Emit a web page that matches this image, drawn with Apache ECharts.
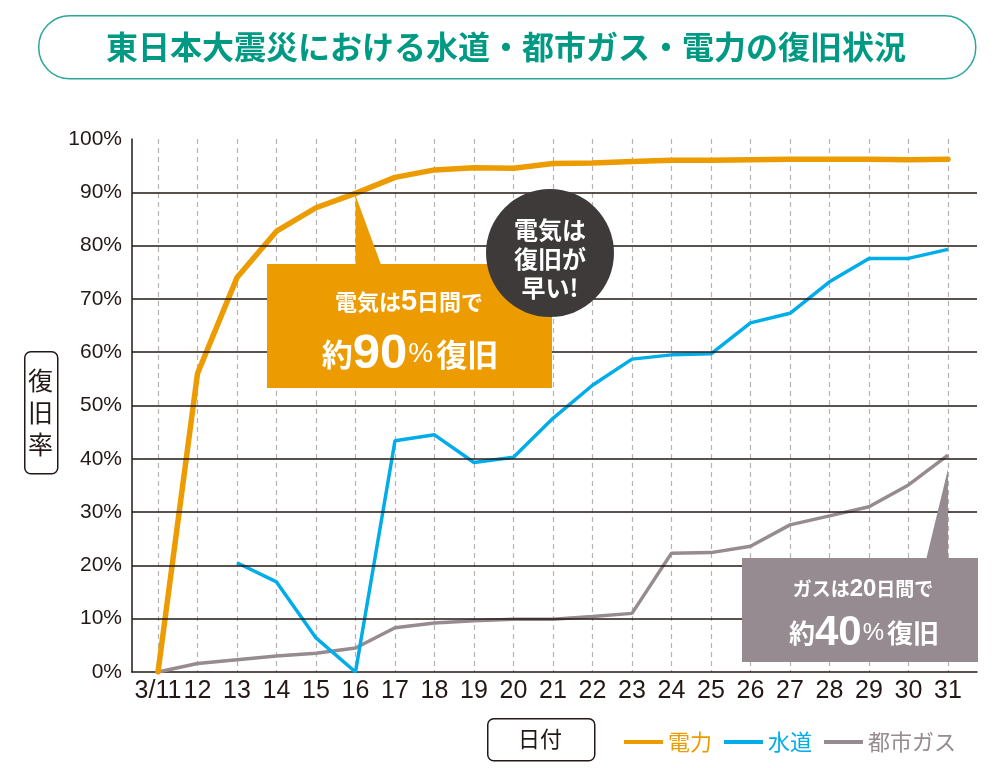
<!DOCTYPE html>
<html>
<head>
<meta charset="utf-8">
<script src="https://cdn.jsdelivr.net/npm/echarts@6/dist/echarts.min.js"></script>
<style>
html,body{margin:0;padding:0;background:#fff;}
#chart{width:1006px;height:768px;}
</style>
</head>
<body>
<div id="chart"></div>
<script>
// 日付
var days = ['3/11','12','13','14','15','16','17','18','19','20','21','22','23','24','25','26','27','28','29','30','31'];
// 復旧率 (%)
var power = [0, 56, 74, 82.7, 87.1, 89.8, 92.8, 94.2, 94.6, 94.5, 95.4, 95.5, 95.8, 96, 96, 96.1, 96.2, 96.2, 96.2, 96.1, 96.2];
var water = [null, null, 20.5, 16.9, 6.4, 0, 43.4, 44.5, 39.3, 40.3, 47.6, 53.8, 58.7, 59.5, 59.7, 65.5, 67.3, 73.2, 77.6, 77.6, 79.3];
var gas   = [0, 1.6, 2.3, 3.0, 3.5, 4.5, 8.3, 9.2, 9.6, 9.9, 9.9, 10.4, 11.0, 22.3, 22.4, 23.6, 27.6, 29.3, 31.0, 35.1, 40.7];
// 横線
var gridValues = [10, 20, 30, 40, 50, 60, 70, 80, 90];

var cOrange = '#ec9c00';
var cBlue = '#00ade8';
var cGray = '#968b90';
var cInk = '#231815';
var jp = '"Noto Sans CJK JP", sans-serif';
var num = '"Liberation Sans", "Noto Sans CJK JP", sans-serif';

var myChart = echarts.init(document.getElementById('chart'));

myChart.setOption({
    backgroundColor: '#fff',
    animation: false,
    grid: [
        {left: 132, right: 29, top: 139, bottom: 96},
        {left: 158, right: 58, top: 139, bottom: 96}
    ],
    xAxis: [
        {
            gridIndex: 0, type: 'value', min: 0, max: 1,
            axisLine: {show: true, onZero: false, lineStyle: {color: cInk, width: 1.5}},
            axisTick: {show: false}, axisLabel: {show: false}, splitLine: {show: false}
        },
        {
            gridIndex: 1, type: 'category', data: days, boundaryGap: false,
            axisLine: {show: false}, axisTick: {show: false},
            axisLabel: {interval: 0, fontSize: 25, color: cInk, fontFamily: num, margin: 7},
            splitLine: {show: true, interval: 0, lineStyle: {color: '#b3b3b3', width: 1.2, type: [5, 4]}}
        }
    ],
    yAxis: [
        {
            gridIndex: 0, type: 'value', min: 0, max: 100, interval: 10,
            axisLine: {show: true, lineStyle: {color: cInk, width: 1.5}},
            axisTick: {show: false},
            axisLabel: {formatter: '{value}%', fontSize: 21, color: cInk, fontFamily: num, margin: 10},
            splitLine: {show: false}
        },
        {
            gridIndex: 1, type: 'value', min: 0, max: 100,
            axisLine: {show: false}, axisTick: {show: false}, axisLabel: {show: false}, splitLine: {show: false}
        }
    ],
    legend: {
        left: 619, top: 726,
        icon: 'rect', itemWidth: 39, itemHeight: 4, itemGap: 12,
        textStyle: {fontSize: 22, fontFamily: jp},
        data: [
            {name: '電力', textStyle: {color: cOrange}},
            {name: '水道', textStyle: {color: cBlue}},
            {name: '都市ガス', textStyle: {color: cGray}}
        ]
    },
    series: [
        {
            name: 'grid', type: 'line', xAxisIndex: 0, yAxisIndex: 0, data: [],
            silent: true,
            markLine: {
                silent: true, symbol: 'none', label: {show: false},
                lineStyle: {color: cInk, width: 1.5, type: 'solid'},
                data: gridValues.map(function (v) { return {yAxis: v}; })
            }
        },
        {
            name: '都市ガス', type: 'line', xAxisIndex: 1, yAxisIndex: 1, data: gas,
            color: cGray, showSymbol: false, lineStyle: {width: 3.5, color: cGray}
        },
        {
            name: '水道', type: 'line', xAxisIndex: 1, yAxisIndex: 1, data: water,
            color: cBlue, showSymbol: false, lineStyle: {width: 3.5, color: cBlue}
        },
        {
            name: '電力', type: 'line', xAxisIndex: 1, yAxisIndex: 1, data: power,
            color: cOrange, showSymbol: false, lineStyle: {width: 5.5, color: cOrange, cap: 'round'}
        }
    ]
});

// 吹き出しの先端
var pA = myChart.convertToPixel({xAxisIndex: 1, yAxisIndex: 1}, [5, power[5]]);
var pB = myChart.convertToPixel({xAxisIndex: 1, yAxisIndex: 1}, [20, gas[20]]);

myChart.setOption({
    graphic: [
        // タイトル
        {type: 'rect', left: 38, top: 15, z: 10,
            shape: {width: 937, height: 63, r: 31},
            style: {fill: '#fff', stroke: '#2aa79b', lineWidth: 1.5}},
        {type: 'text', x: 506, y: 47, z: 11,
            style: {text: '東日本大震災における水道・都市ガス・電力の復旧状況', fill: '#009a84',
                font: 'bold 32px ' + jp, align: 'center', verticalAlign: 'middle'}},
        // 縦軸名
        {type: 'rect', left: 24, top: 351, z: 10,
            shape: {width: 33, height: 122, r: 6},
            style: {fill: '#fff', stroke: cInk, lineWidth: 1.5}},
        {type: 'text', x: 40.5, y: 412, z: 11,
            style: {text: '復\n旧\n率', fill: cInk, font: '25px ' + jp, lineHeight: 32,
                align: 'center', verticalAlign: 'middle'}},
        // 横軸名
        {type: 'rect', left: 487, top: 718, z: 10,
            shape: {width: 107, height: 42, r: 6},
            style: {fill: '#fff', stroke: cInk, lineWidth: 1.5}},
        {type: 'text', x: 540, y: 739, z: 11,
            style: {text: '日付', fill: cInk, font: '22px ' + jp, align: 'center', verticalAlign: 'middle'}},
        // 電力の吹き出し
        {type: 'polygon', z: 20,
            shape: {points: [[pA[0], pA[1] + 2], [pA[0], 266], [pA[0] + 26, 266]]},
            style: {fill: cOrange}},
        {type: 'rect', left: 267, top: 264, z: 20,
            shape: {width: 285, height: 124}, style: {fill: cOrange}},
        {type: 'text', x: 409, y: 302, z: 21,
            style: {
                text: '{a|電気は}{b|5}{a|日間で}',
                align: 'center', verticalAlign: 'middle',
                rich: {
                    a: {fill: '#fff', font: 'bold 22px ' + jp},
                    b: {fill: '#fff', font: 'bold 29px ' + num}
                }
            }},
        {type: 'text', x: 410, y: 354, z: 21,
            style: {
                text: '{a|約}{b|90}{c|%}{a|復旧}',
                align: 'center', verticalAlign: 'middle',
                rich: {
                    a: {fill: '#fff', font: 'bold 31px ' + jp},
                    b: {fill: '#fff', font: 'bold 49px ' + num},
                    c: {fill: '#fff', font: '28px ' + num, padding: [0, 3, 0, 1]}
                }
            }},
        // 丸
        {type: 'circle', z: 22,
            shape: {cx: 550, cy: 253, r: 64}, style: {fill: '#3e3a39'}},
        {type: 'text', x: 550, y: 259, z: 23,
            style: {text: '電気は\n復旧が\n早い!', fill: '#fff', font: 'bold 24px ' + jp, lineHeight: 29,
                align: 'center', verticalAlign: 'middle'}},
        // ガスの吹き出し
        {type: 'polygon', z: 20,
            shape: {points: [[pB[0], pB[1] + 14], [pB[0], 560], [pB[0] - 22, 560]]},
            style: {fill: cGray}},
        {type: 'rect', left: 742, top: 558, z: 20,
            shape: {width: 236, height: 104}, style: {fill: cGray}},
        {type: 'text', x: 863, y: 589, z: 21,
            style: {
                text: '{a|ガスは}{b|20}{a|日間で}',
                align: 'center', verticalAlign: 'middle',
                rich: {
                    a: {fill: '#fff', font: 'bold 19px ' + jp},
                    b: {fill: '#fff', font: 'bold 24px ' + num}
                }
            }},
        {type: 'text', x: 864, y: 633, z: 21,
            style: {
                text: '{a|約}{b|40}{c|%}{a|復旧}',
                align: 'center', verticalAlign: 'middle',
                rich: {
                    a: {fill: '#fff', font: 'bold 26px ' + jp},
                    b: {fill: '#fff', font: 'bold 42px ' + num},
                    c: {fill: '#fff', font: '24px ' + num, padding: [0, 3, 0, 1]}
                }
            }}
    ]
});
</script>
</body>
</html>
